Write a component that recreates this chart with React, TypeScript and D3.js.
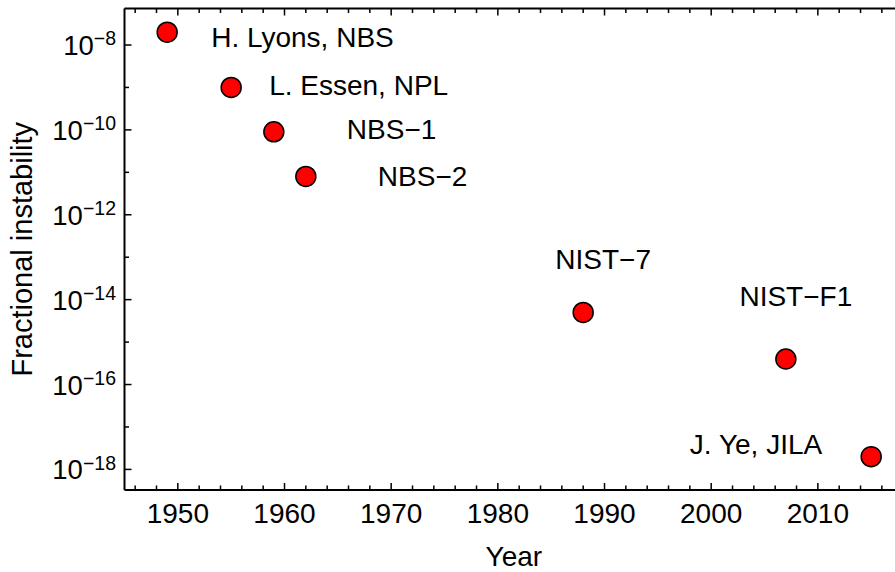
import React from "react";
import * as d3 from "d3";

const labels = ["H. Lyons, NBS", "L. Essen, NPL", "NBS\u22121", "NBS\u22122", "NIST\u22127", "NIST\u2212F1", "J. Ye, JILA"];
const years = [1949, 1955, 1959, 1962, 1988, 2007, 2015];
const instability = [2e-8, 1e-9, 9e-11, 8e-12, 5e-15, 4e-16, 2e-18];
const yTickExponents = [-18, -16, -14, -12, -10, -8];
const xTickYears = [1950, 1960, 1970, 1980, 1990, 2000, 2010];

// label placement: [dx, dy, anchor]
const labelOffsets: [number, number, string][] = [
  [44, 15, "start"],
  [38, 8, "start"],
  [73, 7, "start"],
  [72, 10, "start"],
  [20, -43, "middle"],
  [10, -53, "middle"],
  [-49, -3, "end"],
];

const W = 895;
const H = 572;
const left = 124.5;
const top = 8.5;
const bottom = 490;
const FONT = "'Liberation Sans', Arial, sans-serif";

export default function App() {
  const x = d3.scaleLinear().domain([1945, 2018]).range([left, left + 73 * 10.667]);
  const y = d3.scaleLog().domain([Math.pow(10, -18.485), Math.pow(10, -7.14)]).range([bottom, top]);
  const right = x.range()[1];

  const minorYears = d3.range(1946, 2018, 2).filter((v) => v % 10 !== 0);
  const minorExp = d3.range(-17, -7, 2);

  return (
    <svg width={W} height={H} style={{ position: "absolute", left: 0, top: 0, background: "#fff" }} fontFamily={FONT}>
      {/* frame */}
      <line x1={left} x2={right} y1={top} y2={top} stroke="#000" strokeWidth={2} />
      <line x1={left} x2={right} y1={bottom} y2={bottom} stroke="#000" strokeWidth={2} />
      <line x1={left} x2={left} y1={top} y2={bottom} stroke="#000" strokeWidth={2} />
      {/* x ticks */}
      {xTickYears.map((v) => (
        <g key={"xt" + v}>
          <line x1={x(v)} x2={x(v)} y1={bottom} y2={bottom - 7} stroke="#000" strokeWidth={1.5} />
          <line x1={x(v)} x2={x(v)} y1={top} y2={top + 7} stroke="#000" strokeWidth={1.5} />
          <text x={x(v)} y={523} textAnchor="middle" fontSize={28}>{v}</text>
        </g>
      ))}
      {minorYears.map((v) => (
        <g key={"xm" + v}>
          <line x1={x(v)} x2={x(v)} y1={bottom} y2={bottom - 4.5} stroke="#000" strokeWidth={1.5} />
          <line x1={x(v)} x2={x(v)} y1={top} y2={top + 4.5} stroke="#000" strokeWidth={1.5} />
        </g>
      ))}
      {/* y ticks */}
      {yTickExponents.map((e) => {
        const yy = y(Math.pow(10, e));
        return (
          <g key={"yt" + e}>
            <line x1={left} x2={left + 7} y1={yy} y2={yy} stroke="#000" strokeWidth={1.5} />
            <text x={116} y={yy + 10} textAnchor="end" fontSize={27.5}>
              10
              <tspan fontSize={19.5} dy={-9.5}>{"\u2212" + Math.abs(e)}</tspan>
            </text>
          </g>
        );
      })}
      {minorExp.map((e) => {
        const yy = y(Math.pow(10, e));
        return <line key={"ym" + e} x1={left} x2={left + 4.5} y1={yy} y2={yy} stroke="#000" strokeWidth={1.5} />;
      })}
      {/* axis labels */}
      <text x={(left + right) / 2} y={566} textAnchor="middle" fontSize={28}>Year</text>
      <text transform={`translate(32,${(top + bottom) / 2}) rotate(-90)`} textAnchor="middle" fontSize={29}>
        Fractional instability
      </text>
      {/* points */}
      {years.map((yr, i) => (
        <circle key={"p" + i} cx={x(yr)} cy={y(instability[i])} r={10} fill="#ff0000" stroke="#000" strokeWidth={1.5} />
      ))}
      {labels.map((lb, i) => {
        const [dx, dy, anchor] = labelOffsets[i];
        return (
          <text key={"l" + i} x={x(years[i]) + dx} y={y(instability[i]) + dy} textAnchor={anchor as any} fontSize={28}>
            {lb}
          </text>
        );
      })}
    </svg>
  );
}
